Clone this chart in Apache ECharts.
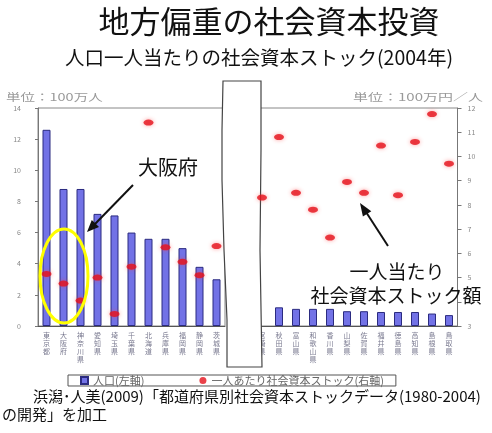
<!DOCTYPE html>
<html>
<head>
<meta charset="utf-8">
<script src="https://cdn.jsdelivr.net/npm/echarts/dist/echarts.min.js"></script>
<style>
html, body { margin: 0; padding: 0; background: #fff; }
#main { width: 492px; height: 433px; }
</style>
</head>
<body>
<div id="main"></div>
<script>
// 人口上位（左パネル）
var prefLeft = ['東京都', '大阪府', '神奈川県', '愛知県', '埼玉県', '千葉県', '北海道', '兵庫県', '福岡県', '静岡県', '茨城県'];
var popLeft = [12.6, 8.8, 8.8, 7.2, 7.1, 6.0, 5.6, 5.6, 5.0, 3.8, 3.0];
var stockLeft = [5.15, 4.75, 4.05, 5.0, 3.5, 5.45, 11.4, 6.25, 5.65, 5.1, 6.3];

// 人口下位（右パネル）  先頭の棒は切れ目に隠れて見えない
var prefRight = ['宮崎県', '秋田県', '富山県', '和歌山県', '香川県', '山梨県', '佐賀県', '福井県', '徳島県', '高知県', '島根県', '鳥取県'];
var popRight = [null, 1.2, 1.1, 1.1, 1.1, 0.95, 0.95, 0.9, 0.9, 0.9, 0.8, 0.7];
var stockRight = [8.3, 10.8, 8.5, 7.8, 6.65, 8.95, 8.5, 10.45, 8.4, 10.6, 11.75, 9.7];

var FONT = '"Noto Sans CJK JP", "Noto Sans", sans-serif';

function vertical(name) {
  return name.split('').join('\n');
}

var xAxisBase = {
  type: 'category',
  axisLine: { lineStyle: { color: '#555' } },
  axisTick: { length: 3, lineStyle: { color: '#555' } },
  axisLabel: {
    interval: 0,
    formatter: vertical,
    fontSize: 7,
    lineHeight: 8,
    margin: 5,
    color: '#7a7a90',
    fontFamily: FONT
  }
};

var barStyle = {
  color: '#7272e6',
  borderColor: '#2b2b80',
  borderWidth: 1
};
var dotStyle = {
  color: '#e5121b',
  shadowBlur: 4,
  shadowColor: 'rgba(255,60,60,0.6)'
};

var option = {
  animation: false,
  textStyle: { fontFamily: FONT },
  grid: [
    { left: 38, top: 108, width: 187, height: 218, show: true, borderColor: '#888', borderWidth: 1 },
    { left: 253.5, top: 108, width: 204, height: 218, show: true, borderColor: '#888', borderWidth: 1 }
  ],
  xAxis: [
    Object.assign({ gridIndex: 0, data: prefLeft }, xAxisBase),
    Object.assign({ gridIndex: 1, data: prefRight }, xAxisBase)
  ],
  yAxis: [
    {
      gridIndex: 0, type: 'value', position: 'left',
      min: 0, max: 14, interval: 2,
      axisLine: { show: true, lineStyle: { color: '#777' } },
      axisTick: { show: true, length: 3 },
      axisLabel: { fontSize: 7, color: '#888', margin: 17 },
      splitLine: { show: false }
    },
    { gridIndex: 0, type: 'value', position: 'right', min: 3, max: 12, interval: 1, show: false },
    { gridIndex: 1, type: 'value', position: 'left', min: 0, max: 14, interval: 2, show: false },
    {
      gridIndex: 1, type: 'value', position: 'right',
      min: 3, max: 12, interval: 1,
      axisLine: { show: true, lineStyle: { color: '#777' } },
      axisTick: { show: true, length: 4 },
      axisLabel: { fontSize: 7, color: '#888', margin: 10 },
      splitLine: { show: false }
    }
  ],
  legend: {
    top: 375,
    left: 68,
    padding: [0, 12],
    borderColor: '#555',
    borderWidth: 1,
    itemWidth: 7,
    itemHeight: 7,
    itemGap: 55,
    textStyle: { fontSize: 11, color: '#666' },
    data: [
      { name: '人口(左軸)', icon: 'rect' },
      { name: '一人あたり社会資本ストック(右軸)', icon: 'circle' }
    ]
  },
  series: [
    {
      name: '人口(左軸)', type: 'bar', xAxisIndex: 0, yAxisIndex: 0,
      barWidth: 8, itemStyle: barStyle, data: popLeft
    },
    {
      name: '人口(左軸)', type: 'bar', xAxisIndex: 1, yAxisIndex: 2,
      barWidth: 8, itemStyle: barStyle, data: popRight
    },
    {
      name: '一人あたり社会資本ストック(右軸)', type: 'scatter', xAxisIndex: 0, yAxisIndex: 1,
      symbol: 'circle', symbolSize: [10, 6], itemStyle: dotStyle, data: stockLeft
    },
    {
      name: '一人あたり社会資本ストック(右軸)', type: 'scatter', xAxisIndex: 1, yAxisIndex: 3,
      symbol: 'circle', symbolSize: [10, 6], itemStyle: dotStyle, data: stockRight
    }
  ],
  graphic: [
    // 軸の切れ目
    {
      type: 'polygon', z: 1,
      shape: { points: [[223, 81], [261, 81], [261, 150], [260, 250], [262, 367], [227, 367], [227, 320], [224, 250], [222, 180], [222, 130]] },
      style: { fill: '#fff', stroke: '#444', lineWidth: 1.2 }
    },
    // タイトル
    {
      type: 'text', x: 269, y: 21, z: 20,
      style: { text: '地方偏重の社会資本投資', font: '31px ' + FONT, fill: '#111', align: 'center', verticalAlign: 'middle' }
    },
    {
      type: 'text', x: 259, y: 58, z: 20,
      style: { text: '人口一人当たりの社会資本ストック(2004年)', font: '19.5px ' + FONT, fill: '#111', align: 'center', verticalAlign: 'middle' }
    },
    // 単位
    {
      type: 'text', x: 6, y: 97, z: 20, scaleX: 1.45,
      style: { text: '単位：100万人', font: '10px ' + FONT, fill: '#999', align: 'left', verticalAlign: 'middle' }
    },
    {
      type: 'text', x: 483, y: 97, z: 20, scaleX: 1.5,
      style: { text: '単位：100万円／人', font: '10px ' + FONT, fill: '#999', align: 'right', verticalAlign: 'middle' }
    },
    // 大阪府の注記
    {
      type: 'text', x: 168, y: 167, z: 20,
      style: { text: '大阪府', font: '20px ' + FONT, fill: '#111', align: 'center', verticalAlign: 'middle' }
    },
    {
      type: 'line', z: 20,
      shape: { x1: 133, y1: 185, x2: 95, y2: 224 },
      style: { stroke: '#111', lineWidth: 2 }
    },
    {
      type: 'polygon', z: 20,
      shape: { points: [[87, 232], [99, 227], [91.8, 219.9]] },
      style: { fill: '#111' }
    },
    {
      type: 'ellipse', z: 20,
      shape: { cx: 64, cy: 276, rx: 24, ry: 47 },
      style: { fill: 'none', stroke: '#ffff00', lineWidth: 3 }
    },
    // 一人当たり社会資本ストック額の注記
    {
      type: 'text', x: 397, y: 272, z: 20,
      style: { text: '一人当たり', font: '19px ' + FONT, fill: '#111', align: 'center', verticalAlign: 'middle' }
    },
    {
      type: 'text', x: 396, y: 296, z: 20,
      style: { text: '社会資本ストック額', font: '19px ' + FONT, fill: '#111', align: 'center', verticalAlign: 'middle' }
    },
    {
      type: 'line', z: 20,
      shape: { x1: 388, y1: 246, x2: 366, y2: 212 },
      style: { stroke: '#111', lineWidth: 2 }
    },
    {
      type: 'polygon', z: 20,
      shape: { points: [[360, 203], [371.3, 211.2], [362.9, 216.6]] },
      style: { fill: '#111' }
    },
    // 出典
    {
      type: 'text', x: 18, y: 396, z: 20,
      style: { text: '　浜潟･人美(2009)「都道府県別社会資本ストックデータ(1980-2004)', font: '15px ' + FONT, fill: '#111', align: 'left', verticalAlign: 'middle' }
    },
    {
      type: 'text', x: 2, y: 414, z: 20,
      style: { text: 'の開発」を加工', font: '15px ' + FONT, fill: '#111', align: 'left', verticalAlign: 'middle' }
    }
  ]
};

var myChart = echarts.init(document.getElementById('main'));
myChart.setOption(option);
</script>
</body>
</html>
